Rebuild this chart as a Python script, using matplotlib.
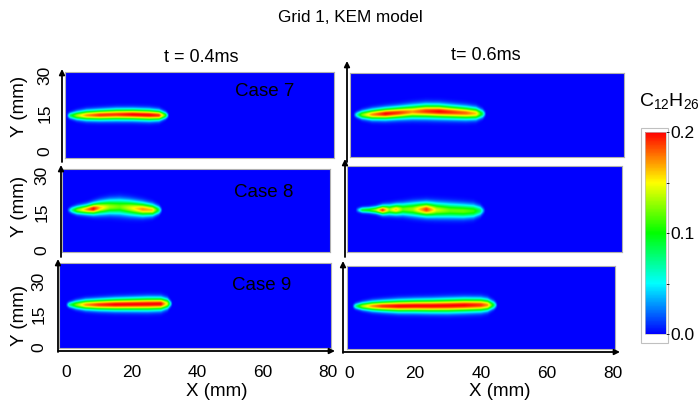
import numpy as np
import matplotlib
matplotlib.use('Agg')
import matplotlib.pyplot as plt
from matplotlib.colors import LinearSegmentedColormap
from matplotlib.patches import Rectangle

plt.rcParams['font.family'] = ['Liberation Sans', 'DejaVu Sans']
plt.rcParams['mathtext.fontset'] = 'custom'
plt.rcParams['mathtext.rm'] = 'Liberation Sans'
plt.rcParams['mathtext.it'] = 'Liberation Sans'
plt.rcParams['mathtext.default'] = 'regular'

title = "Grid 1, KEM model"
times = ["t = 0.4ms", "t= 0.6ms"]
cases = ["Case 7", "Case 8", "Case 9"]
x_ticks = [0, 20, 40, 60, 80]
y_ticks = [0, 15, 30]
cbar_ticks = [0.0, 0.1, 0.2]
cbar_labels = ["0.0", "0.1", "0.2"]
vmin, vmax = 0.0, 0.2

# Plume profiles: axial station (mm), peak C12H26 value,
# cross-width (mm) and centre height (mm)
c7_04_x    = [0, 1, 3, 6, 10, 15, 20, 25, 28, 30, 31]
c7_04_peak = [0.0, 0.08, 0.13, 0.17, 0.19, 0.19, 0.20, 0.20, 0.19, 0.10, 0.0]
c7_04_w    = [0.8, 1.1, 1.5, 1.8, 1.9, 2.0, 2.0, 2.0, 1.8, 1.2, 0.7]
c7_04_yc   = [13.8, 13.8, 13.8, 13.9, 14.0, 14.2, 14.2, 14.0, 13.9, 13.9, 13.9]

c7_06_x    = [0.5, 1.5, 3, 6, 10, 14, 18, 22, 26, 30, 34, 37, 39, 40]
c7_06_peak = [0.0, 0.06, 0.12, 0.17, 0.20, 0.19, 0.17, 0.19, 0.20, 0.19, 0.18, 0.16, 0.08, 0.0]
c7_06_w    = [0.8, 1.1, 1.5, 1.9, 2.1, 2.2, 2.4, 2.5, 2.5, 2.4, 2.3, 2.1, 1.5, 0.8]
c7_06_yc   = [14.3, 14.3, 14.3, 14.4, 14.7, 15.1, 15.5, 15.7, 15.6, 15.3, 15.0, 14.8, 14.7, 14.7]

c8_04_x    = [1, 2.5, 4, 7, 9, 11, 14, 17, 20, 24, 27, 29, 30]
c8_04_peak = [0.0, 0.07, 0.12, 0.17, 0.20, 0.16, 0.13, 0.12, 0.14, 0.17, 0.16, 0.08, 0.0]
c8_04_w    = [0.8, 1.2, 1.5, 1.8, 2.1, 2.4, 2.7, 2.9, 2.8, 2.5, 2.1, 1.5, 0.8]
c8_04_yc   = [16.0, 16.0, 16.0, 16.2, 16.5, 16.9, 17.3, 17.3, 16.9, 16.3, 16.0, 16.0, 16.0]

c8_06_x    = [2, 4, 6, 8, 10, 12, 14, 16, 19, 23, 26, 30, 34, 37, 39, 40.5]
c8_06_peak = [0.0, 0.09, 0.10, 0.13, 0.19, 0.13, 0.16, 0.12, 0.13, 0.19, 0.14, 0.12, 0.12, 0.11, 0.08, 0.0]
c8_06_w    = [0.8, 1.0, 1.1, 1.3, 1.7, 1.9, 2.0, 2.2, 2.5, 2.6, 2.7, 2.7, 2.6, 2.4, 1.8, 0.8]
c8_06_yc   = [16.0, 16.0, 16.0, 16.0, 16.0, 16.1, 16.2, 16.3, 16.3, 16.2, 16.0, 15.8, 15.6, 15.6, 15.7, 15.8]

c9_04_x    = [0, 1, 3, 6, 10, 15, 20, 25, 29, 31, 32.5]
c9_04_peak = [0.0, 0.07, 0.12, 0.17, 0.19, 0.20, 0.20, 0.20, 0.20, 0.14, 0.0]
c9_04_w    = [0.9, 1.2, 1.7, 2.1, 2.3, 2.5, 2.6, 2.7, 2.6, 2.1, 0.9]
c9_04_yc   = [19.5, 19.5, 19.5, 19.5, 19.5, 19.6, 19.7, 19.8, 19.9, 20.0, 20.0]

c9_06_x    = [1, 2, 4, 7, 10, 15, 20, 25, 30, 35, 40, 42, 44, 45]
c9_06_peak = [0.0, 0.07, 0.13, 0.17, 0.19, 0.20, 0.20, 0.20, 0.20, 0.20, 0.19, 0.17, 0.08, 0.0]
c9_06_w    = [0.9, 1.2, 1.6, 2.0, 2.2, 2.5, 2.6, 2.7, 2.8, 2.8, 2.7, 2.4, 1.6, 0.9]
c9_06_yc   = [19.1, 19.1, 19.1, 19.1, 19.1, 19.1, 19.2, 19.2, 19.3, 19.5, 19.6, 19.6, 19.6, 19.6]

W, H = 699, 403
fig = plt.figure(figsize=(W / 100, H / 100), dpi=100)

def rect(l, t, r, b):
    return [l / W, 1 - b / H, (r - l) / W, (b - t) / H]

cmap = LinearSegmentedColormap.from_list(
    "bcgyr", [(0.0, "#0000ff"), (0.25, "#00ffff"), (0.5, "#00ff00"),
              (0.75, "#ffff00"), (1.0, "#ff0000")])

def field(xs, peak, w, yc, xlim, ylim, nx=700, ny=300):
    X = np.linspace(xlim[0], xlim[1], nx)
    Y = np.linspace(ylim[0], ylim[1], ny)
    p = np.interp(X, xs, peak, left=0, right=0)
    ww = np.interp(X, xs, w)
    cc = np.interp(X, xs, yc)
    return p[None, :] * np.exp(-((Y[:, None] - cc[None, :]) / ww[None, :]) ** 2)

panels = [
    # data, pixel box, xlim, ylim, ylabels?, xlabels?
    ((c7_04_x, c7_04_peak, c7_04_w, c7_04_yc), (65, 72, 334, 158), (-0.5, 81), (-2.76, 31.18), True, False),
    ((c7_06_x, c7_06_peak, c7_06_w, c7_06_yc), (350, 73, 624, 157), (-0.5, 81), (-2.37, 30.8), False, False),
    ((c8_04_x, c8_04_peak, c8_04_w, c8_04_yc), (62, 169, 330, 252), (-0.5, 81), (-0.8, 32.4), True, False),
    ((c8_06_x, c8_06_peak, c8_06_w, c8_06_yc), (347, 166, 622, 252), (-0.5, 81), (-0.8, 33.6), False, False),
    ((c9_04_x, c9_04_peak, c9_04_w, c9_04_yc), (59, 263, 331, 348), (-2.1, 80.9), (-0.3, 38.6), True, True),
    ((c9_06_x, c9_06_peak, c9_06_w, c9_06_yc), (347, 266, 615, 349), (-0.6, 80.6), (-0.3, 37.7), False, True),
]

im = None
for data, box, xl, yl, ylab, xlab in panels:
    ax = fig.add_axes(rect(*box))
    Z = field(*data, xl, yl)
    im = ax.imshow(Z, origin='lower', extent=[xl[0], xl[1], yl[0], yl[1]],
                   aspect='auto', cmap=cmap, vmin=vmin, vmax=vmax,
                   interpolation='bilinear')
    ax.set_xlim(xl)
    ax.set_ylim(yl)
    for s in ax.spines.values():
        s.set_edgecolor('#b0b0b0')
        s.set_linewidth(0.8)
    if ylab:
        ax.set_yticks(y_ticks)
        ax.set_yticklabels([str(v) for v in y_ticks], rotation=90, va='center', fontsize=12.5)
        ax.tick_params(axis='y', length=0, pad=9)
    else:
        ax.set_yticks([])
    if xlab:
        ax.set_xticks(x_ticks)
        ax.set_xticklabels([str(v) for v in x_ticks], fontsize=12.5)
        ax.tick_params(axis='x', length=0, pad=12)
    else:
        ax.set_xticks([])

def arrow(x0, y0, x1, y1):
    fig.add_artist(plt.Annotation('', xy=(x1, H - y1), xytext=(x0, H - y0),
                                  xycoords='figure pixels', textcoords='figure pixels',
                                  arrowprops=dict(arrowstyle='-|>', lw=1.3, color='black',
                                                  mutation_scale=8, shrinkA=0, shrinkB=0)))

arrow(62, 162, 62, 69)
arrow(347, 162, 347, 61)
arrow(61, 257, 61, 165)
arrow(345, 257, 345, 159)
arrow(58, 352, 58, 259)
arrow(58, 351, 335, 351)
arrow(343, 353, 343, 261)
arrow(343, 352, 620, 352)

def ftext(x, y, s, **kw):
    fig.text(x / W, 1 - y / H, s, ha='center', va='center', **kw)

ftext(350, 18, title, fontsize=12.3)
ftext(201, 58, times[0], fontsize=13)
ftext(486, 55, times[1], fontsize=13)
ftext(265, 92, cases[0], fontsize=13.5)
ftext(264, 192, cases[1], fontsize=13.5)
ftext(262, 285, cases[2], fontsize=13.5)
for yc in (106, 206, 315):
    ftext(19, yc, "Y (mm)", fontsize=13.5, rotation=90)
ftext(217, 392, "X (mm)", fontsize=13.5)
ftext(500, 392, "X (mm)", fontsize=13.5)
ftext(669, 101, r"C$_{12}$H$_{26}$", fontsize=14)

# colorbar with light frame
fig.add_artist(Rectangle((641 / W, 1 - 343 / H), 27 / W, 215 / H, transform=fig.transFigure,
                         facecolor='white', edgecolor='#c0c0c0', lw=0.8, zorder=0))
cax = fig.add_axes(rect(645, 132, 666, 334))
cb = fig.colorbar(im, cax=cax, ticks=cbar_ticks)
cb.ax.set_yticklabels(cbar_labels, fontsize=12.5)
cb.outline.set_edgecolor('#c0c0c0')
cb.outline.set_linewidth(0.5)
cb.ax.set_yticks([0.05, 0.15], minor=True)
cb.ax.tick_params(which='major', length=2, width=0.6, pad=1)
cb.ax.tick_params(which='minor', length=2, width=0.6)

fig.savefig('out.png', dpi=100)
